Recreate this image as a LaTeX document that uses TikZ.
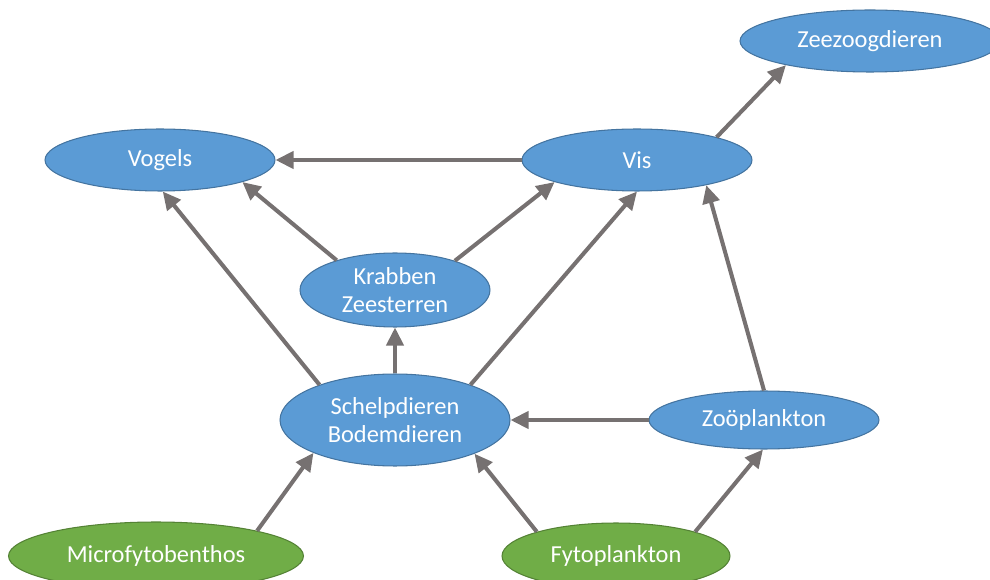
\documentclass[tikz,border=0pt]{standalone}
\usepackage{fontspec}
\setmainfont{Carlito}
\usepackage{tikz}
\usetikzlibrary{arrows.meta,positioning,shapes.geometric}
\definecolor{diercol}{HTML}{5B9BD5}
\definecolor{plantcol}{HTML}{70AD47}
\definecolor{pijlcol}{HTML}{767171}

\begin{document}
\begin{tikzpicture}[
  x=0.02cm, y=-0.02cm,
  font=\fontsize{13.9}{16}\selectfont,
  dier/.style={ellipse, draw=diercol!75!black, fill=diercol, line width=0.6pt,
               text=white, align=center, inner sep=0pt,
               minimum width=4.6cm, minimum height=1.24cm},
  plant/.style={dier, draw=plantcol!75!black, fill=plantcol},
  eet/.style={-{Triangle[length=0.36cm,width=0.34cm]}, draw=pijlcol, line width=2.3pt},
]
\useasboundingbox (0,0) rectangle (990,580);

%============================ TOP ============================
\node[dier, minimum width=5.2cm] (zee) at (870,41) {Zeezoogdieren};
\node[dier] (vogels) at (160,160) {Vogels};
\node[dier] (vis)    at (637,160) {Vis};

%============================ MIDDLE ============================
\node[dier, minimum width=3.8cm, minimum height=1.48cm] (krab) at (395,290) {Krabben\\Zeesterren};
\node[dier, minimum height=1.84cm] (schelp) at (395,420) {Schelpdieren\\Bodemdieren};
\node[dier, minimum height=1.16cm] (zoo) at (764,420) {Zoöplankton};

%============================ PRODUCERS ============================
\node[plant, minimum width=5.9cm, minimum height=1.36cm] (micro) at (156,556) {Microfytobenthos};
\node[plant, minimum width=4.56cm, minimum height=1.32cm] (fyto) at (616,556) {Fytoplankton};

% who eats whom
\foreach \a/\b in {vis.west/vogels.east, krab.153/vogels.-15, krab.26/vis.-165,
                   schelp.155/vogels.-85, schelp.north/krab.south, schelp.25/vis.south,
                   zoo.west/schelp.east, zoo.north/vis.-20, vis.16/zee.196,
                   micro.14/schelp.202, fyto.163/schelp.-23, fyto.17/zoo.-92}
  \draw[eet] (\a) -- (\b);

\end{tikzpicture}
\end{document}
